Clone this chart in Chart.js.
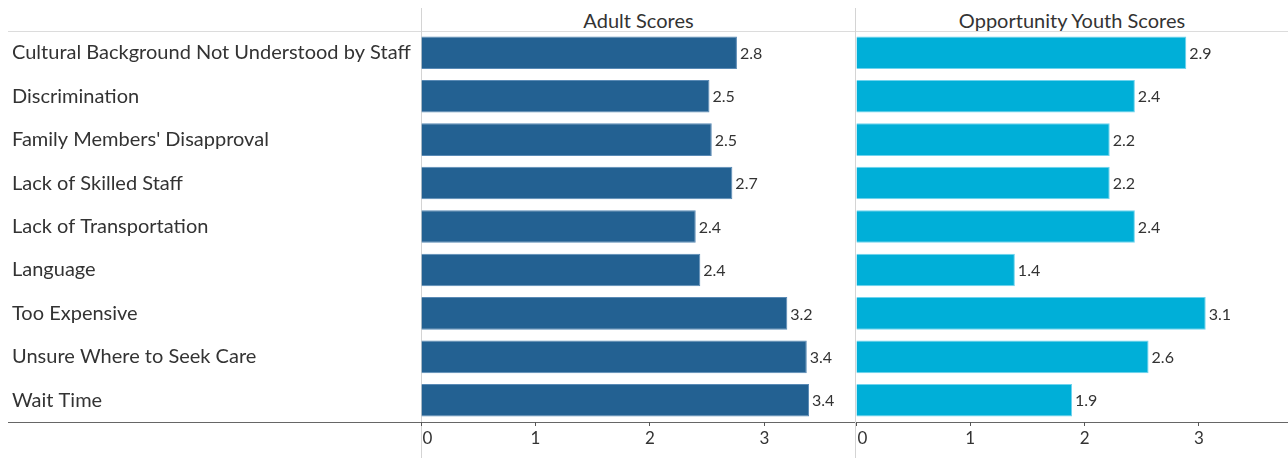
<!DOCTYPE html>
<html lang="en">
<head>
    <meta charset="UTF-8">
    <title>Adult vs Opportunity Youth Scores</title>
    <script src="https://cdn.jsdelivr.net/npm/chart.js"></script>
    <style>
        body {
            margin: 0;
            background: #fff;
            font-family: Lato, sans-serif;
        }
        #wrap {
            position: relative;
            width: 1288px;
            height: 458px;
            overflow: hidden;
        }
        .title {
            position: absolute;
            top: 8px;
            height: 24px;
            line-height: 24px;
            text-align: center;
            font-size: 20px;
            color: #333;
        }
        .hline {
            position: absolute;
            height: 1px;
            background: #dcdcdc;
        }
        .vline {
            position: absolute;
            top: 8px;
            width: 1px;
            height: 450px;
            background: #d4d4d4;
        }
        canvas {
            position: absolute;
            top: 0;
        }
    </style>
</head>
<body>
    <div id="wrap">
        <div class="hline" style="top:31px; left:8px; width:1280px;"></div>
        <div class="hline" style="top:422px; left:8px; width:1280px; background:#666;"></div>
        <div class="vline" style="left:421px;"></div>
        <div class="vline" style="left:855px;"></div>
        <div class="title" style="left:421px; width:435px;">Adult Scores</div>
        <div class="title" style="left:856px; width:432px;">Opportunity Youth Scores</div>
        <canvas id="adultChart" width="856" height="458" style="left:0;"></canvas>
        <canvas id="youthChart" width="432" height="458" style="left:856px;"></canvas>
    </div>
    <script>
        const categories = [
            'Cultural Background Not Understood by Staff',
            'Discrimination',
            "Family Members' Disapproval",
            'Lack of Skilled Staff',
            'Lack of Transportation',
            'Language',
            'Too Expensive',
            'Unsure Where to Seek Care',
            'Wait Time'
        ];
        const adultScores = [2.76, 2.52, 2.54, 2.72, 2.40, 2.44, 3.20, 3.37, 3.39];
        const youthScores = [2.89, 2.44, 2.22, 2.22, 2.44, 1.39, 3.06, 2.56, 1.89];
        const axisTicks = [0, 1, 2, 3];

        Chart.defaults.font.family = 'Lato, sans-serif';
        Chart.defaults.color = '#333';

        const valueLabels = {
            id: 'valueLabels',
            afterDatasetsDraw(chart) {
                const ctx = chart.ctx;
                chart.data.datasets.forEach((ds, i) => {
                    chart.getDatasetMeta(i).data.forEach((bar, j) => {
                        ctx.save();
                        ctx.font = '16px Lato, sans-serif';
                        ctx.fillStyle = '#333';
                        ctx.textAlign = 'left';
                        ctx.textBaseline = 'middle';
                        ctx.fillText(ds.data[j].toFixed(1), bar.x + 3, bar.y + 1);
                        ctx.restore();
                    });
                });
            }
        };

        function createChart(id, values, color, edge, axisMax, showLabels) {
            return new Chart(document.getElementById(id), {
                type: 'bar',
                data: {
                    labels: categories,
                    datasets: [{
                        data: values,
                        backgroundColor: color,
                        borderColor: edge,
                        borderWidth: 1,
                        categoryPercentage: 1,
                        barPercentage: 0.75
                    }]
                },
                options: {
                    indexAxis: 'y',
                    responsive: false,
                    animation: false,
                    devicePixelRatio: 1,
                    layout: { padding: { top: 31, left: showLabels ? 12 : 0, right: 0, bottom: 0 } },
                    plugins: {
                        legend: { display: false },
                        tooltip: { enabled: false }
                    },
                    scales: {
                        x: {
                            min: 0,
                            max: axisMax,
                            afterBuildTicks: s => { s.ticks = axisTicks.map(v => ({ value: v })); },
                            afterFit: s => {
                                s.height = 36;
                                s.paddingLeft = 0;
                                s.paddingRight = 0;
                            },
                            ticks: {
                                font: { size: 17 },
                                color: '#333',
                                padding: 2,
                                maxRotation: 0,
                                callback: v => v === 0 ? '   0' : v
                            },
                            grid: { drawOnChartArea: false, drawTicks: true, tickLength: 4, color: '#555' },
                            border: { display: false }
                        },
                        y: {
                            display: showLabels,
                            afterFit: s => { s.width = showLabels ? 409 : 0; },
                            ticks: {
                                font: { size: 20 },
                                color: '#333',
                                crossAlign: 'far',
                                padding: 0
                            },
                            grid: { display: false },
                            border: { display: false }
                        }
                    }
                },
                plugins: [valueLabels]
            });
        }

        createChart('adultChart', adultScores, '#236192', '#5a8ab5', 3.8, true);
        createChart('youthChart', youthScores, '#00afd8', '#6fd3ee', 3.78, false);
    </script>
</body>
</html>
